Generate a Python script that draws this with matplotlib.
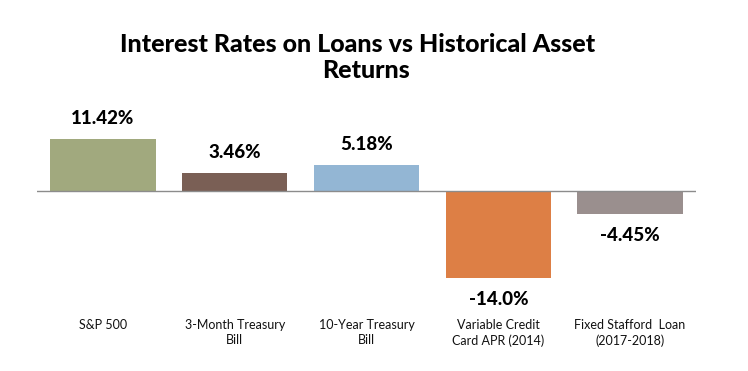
import matplotlib
matplotlib.use("Agg")
import matplotlib.pyplot as plt

categories = ["S&P 500", "3-Month Treasury\nBill", "10-Year Treasury\nBill",
              "Variable Credit\nCard APR (2014)", "Fixed Stafford  Loan\n(2017-2018)"]
bar_values = [10.2, 3.6, 5.1, -17.0, -4.45]
value_labels = ["11.42%", "3.46%", "5.18%", "-14.0%", "-4.45%"]
colors = ["#A1A97E", "#7A5F55", "#93B6D4", "#DD7F45", "#9A8F8E"]

plt.rcParams['font.family'] = ['Lato', 'DejaVu Sans']

W, H = 748, 371
fig = plt.figure(figsize=(W / 100, H / 100), dpi=100)
ax = fig.add_axes([37 / W, 78 / H, 659 / W, 163.2 / H])

x = list(range(len(categories)))
ax.bar(x, bar_values, width=0.8, color=colors, zorder=2)
ax.axhline(0, color="#8c8c8c", lw=1.0, zorder=3)
ax.set_xlim(-0.5, 4.5)
ax.set_ylim(-20, 12)

for s in ax.spines.values():
    s.set_visible(False)
ax.set_yticks([])
ax.set_xticks(x)
ax.set_xticklabels(categories, fontsize=9, ha="center", va="top", color="#111111")
for lbl in ax.get_xticklabels():
    lbl.set_linespacing(1.35)
    lbl.set_multialignment("center")
ax.tick_params(axis="x", length=0, pad=18.5)

for xi, v, t in zip(x, bar_values, value_labels):
    off = 14.4 if v >= 0 else -15.5
    ax.annotate(t, (xi, v), xytext=(0, off), textcoords="offset points",
                ha="center", va="center", fontsize=13.5, fontweight="black",
                color="black")

fig.text(358 / W, 1 - 52 / H, "Interest Rates on Loans vs Historical Asset",
         ha="center", va="baseline", fontsize=18, fontweight="black")
fig.text(366 / W, 1 - 78 / H, "Returns",
         ha="center", va="baseline", fontsize=18, fontweight="black")

fig.savefig("out.png", dpi=100)
